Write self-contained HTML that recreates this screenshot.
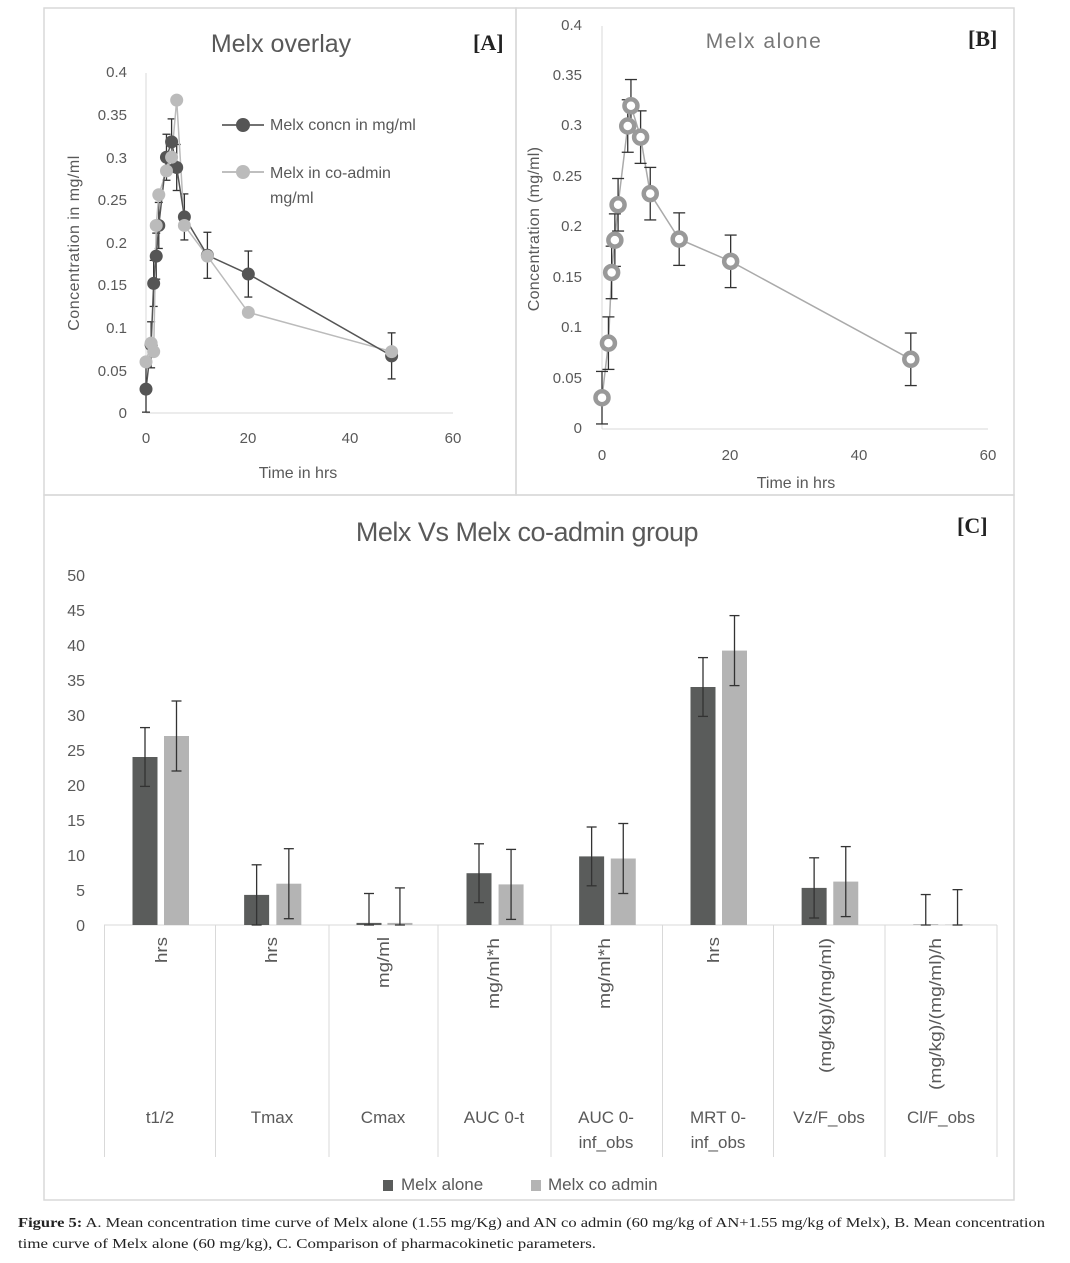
<!DOCTYPE html>
<html><head><meta charset="utf-8"><style>
body{margin:0;background:#fff;}
svg{display:block;font-family:"Liberation Sans",sans-serif;}
</style></head><body>
<svg id="s" width="1070" height="1263" viewBox="0 0 1070 1263">
<rect x="0" y="0" width="1070" height="1263" fill="#fff"/>
<g fill="none" stroke="#d9d9d9" stroke-width="1.5">
<rect x="44" y="8" width="472" height="487"/>
<rect x="516" y="8" width="498" height="487"/>
<rect x="44" y="495" width="970" height="705"/>
</g>
<g fill="#595959">
<text x="281" y="52" font-size="25" text-anchor="middle">Melx overlay</text>
<text x="764" y="48" font-size="21" text-anchor="middle" letter-spacing="1.5" fill="#777">Melx alone</text>
<text x="527" y="541" font-size="27" text-anchor="middle" letter-spacing="-0.5">Melx Vs Melx co-admin group</text>
</g>
<g font-family="Liberation Serif,serif" font-weight="bold" font-size="22" fill="#222">
<text x="473" y="50">[A]</text>
<text x="968" y="46">[B]</text>
<text x="957" y="533">[C]</text>
</g>
<g font-size="15" fill="#595959" text-anchor="end">
<text x="127" y="418">0</text><text x="127" y="376">0.05</text><text x="127" y="333">0.1</text><text x="127" y="290">0.15</text><text x="127" y="248">0.2</text><text x="127" y="205">0.25</text><text x="127" y="163">0.3</text><text x="127" y="120">0.35</text><text x="127" y="77">0.4</text>
</g>
<g font-size="15" fill="#595959" text-anchor="middle">
<text x="146" y="443">0</text><text x="248" y="443">20</text><text x="350" y="443">40</text><text x="453" y="443">60</text>
<text x="298" y="478" font-size="16">Time in hrs</text>
<text transform="translate(79,243) rotate(-90)" font-size="16" letter-spacing="0.5">Concentration in mg/ml</text>
</g>
<line x1="146" y1="73" x2="146" y2="413" stroke="#d9d9d9"/>
<line x1="146" y1="413" x2="453" y2="413" stroke="#d9d9d9"/>
<line x1="222" y1="125" x2="264" y2="125" stroke="#444" stroke-width="1.5"/><circle cx="243" cy="125" r="7" fill="#555"/>
<line x1="222" y1="172" x2="264" y2="172" stroke="#aaa" stroke-width="1.5"/><circle cx="243" cy="172" r="7" fill="#bbb"/>
<g font-size="16" fill="#595959">
<text x="270" y="130">Melx concn in mg/ml</text>
<text x="270" y="178">Melx in co-admin</text>
<text x="270" y="203">mg/ml</text>
</g>
<g id="A"></g>
<g font-size="15" fill="#595959" text-anchor="end">
<text x="582" y="433">0</text><text x="582" y="383">0.05</text><text x="582" y="332">0.1</text><text x="582" y="282">0.15</text><text x="582" y="231">0.2</text><text x="582" y="181">0.25</text><text x="582" y="130">0.3</text><text x="582" y="80">0.35</text><text x="582" y="30">0.4</text>
</g>
<g font-size="15" fill="#595959" text-anchor="middle">
<text x="602" y="460">0</text><text x="730" y="460">20</text><text x="859" y="460">40</text><text x="988" y="460">60</text>
<text x="796" y="488" font-size="16">Time in hrs</text>
<text transform="translate(539,229) rotate(-90)" font-size="16" letter-spacing="0.3">Concentration (mg/ml)</text>
</g>
<line x1="602" y1="26" x2="602" y2="429" stroke="#d9d9d9"/>
<line x1="602" y1="429" x2="988" y2="429" stroke="#d9d9d9"/>
<g id="B"></g>
<g font-size="16" fill="#595959" text-anchor="end">
<text x="85" y="931">0</text><text x="85" y="896">5</text><text x="85" y="861">10</text><text x="85" y="826">15</text><text x="85" y="791">20</text><text x="85" y="756">25</text><text x="85" y="721">30</text><text x="85" y="686">35</text><text x="85" y="651">40</text><text x="85" y="616">45</text><text x="85" y="581">50</text>
</g>
<line x1="104" y1="925" x2="997" y2="925" stroke="#d9d9d9"/>
<g stroke="#d9d9d9"><line x1="104.5" y1="925" x2="104.5" y2="1157"/><line x1="215.5" y1="925" x2="215.5" y2="1157"/><line x1="329" y1="925" x2="329" y2="1157"/><line x1="438" y1="925" x2="438" y2="1157"/><line x1="551" y1="925" x2="551" y2="1157"/><line x1="662.5" y1="925" x2="662.5" y2="1157"/><line x1="773.5" y1="925" x2="773.5" y2="1157"/><line x1="885" y1="925" x2="885" y2="1157"/><line x1="997" y1="925" x2="997" y2="1157"/></g>
<g id="C"></g>
<g font-size="17" fill="#595959" text-anchor="end">
<text transform="translate(167,937) rotate(-90)" textLength="26" lengthAdjust="spacingAndGlyphs">hrs</text>
<text transform="translate(277,937) rotate(-90)" textLength="26" lengthAdjust="spacingAndGlyphs">hrs</text>
<text transform="translate(389,937) rotate(-90)" textLength="51" lengthAdjust="spacingAndGlyphs">mg/ml</text>
<text transform="translate(499,938) rotate(-90)" textLength="71" lengthAdjust="spacingAndGlyphs">mg/ml*h</text>
<text transform="translate(610,938) rotate(-90)" textLength="71" lengthAdjust="spacingAndGlyphs">mg/ml*h</text>
<text transform="translate(719,937) rotate(-90)" textLength="26" lengthAdjust="spacingAndGlyphs">hrs</text>
<text transform="translate(831,938) rotate(-90)" textLength="135" lengthAdjust="spacingAndGlyphs">(mg/kg)/(mg/ml)</text>
<text transform="translate(941,938) rotate(-90)" textLength="152" lengthAdjust="spacingAndGlyphs">(mg/kg)/(mg/ml)/h</text>
</g>
<g font-size="17" fill="#595959" text-anchor="middle">
<text x="160" y="1123">t1/2</text><text x="272" y="1123">Tmax</text><text x="383" y="1123">Cmax</text><text x="494" y="1123">AUC 0-t</text>
<text x="606" y="1123">AUC 0-</text><text x="606" y="1148">inf_obs</text>
<text x="718" y="1123">MRT 0-</text><text x="718" y="1148">inf_obs</text>
<text x="829" y="1123">Vz/F_obs</text><text x="941" y="1123">Cl/F_obs</text>
</g>
<rect x="383" y="1180" width="10" height="11" fill="#5a5c5b"/>
<rect x="531" y="1180" width="10" height="11" fill="#b4b4b4"/>
<g font-size="17" fill="#595959"><text x="401" y="1190">Melx alone</text><text x="548" y="1190">Melx co admin</text></g>
<g font-family="Liberation Serif,serif" font-size="14" fill="#222">
<text x="18" y="1227" textLength="1027" lengthAdjust="spacingAndGlyphs"><tspan font-weight="bold">Figure 5:</tspan> A. Mean concentration time curve of Melx alone (1.55 mg/Kg) and AN co admin (60 mg/kg of AN+1.55 mg/kg of Melx), B. Mean concentration</text>
<text x="18" y="1248" textLength="578" lengthAdjust="spacingAndGlyphs">time curve of Melx alone (60 mg/kg), C. Comparison of pharmacokinetic parameters.</text>
</g>
</svg>
<script>
var NS="http://www.w3.org/2000/svg";
function el(p,t,a){var e=document.createElementNS(NS,t);for(var k in a)e.setAttribute(k,a[k]);p.appendChild(e);return e;}
function eb(g,x,y1,y2,c,w){el(g,"line",{x1:x,y1:y1,x2:x,y2:y2,stroke:c,"stroke-width":1.3});el(g,"line",{x1:x-w,y1:y1,x2:x+w,y2:y1,stroke:c,"stroke-width":1.3});el(g,"line",{x1:x-w,y1:y2,x2:x+w,y2:y2,stroke:c,"stroke-width":1.3});}
var gA=document.getElementById("A");
var ax=function(t){return 146+t*5.117},ay=function(v){return 413-v*852.5};
var T=[0,1,1.5,2,2.5,4,5,6,7.5,12,20,48];
var D=[0.028,0.08,0.152,0.184,0.22,0.3,0.318,0.288,0.23,0.185,0.163,0.067];
var G=[0.06,0.082,0.072,0.22,0.256,0.284,0.3,0.367,0.22,0.184,0.118,0.072];
var p1="",p2="";T.forEach(function(t,i){p1+=(i?"L":"M")+ax(t)+","+ay(D[i]);p2+=(i?"L":"M")+ax(t)+","+ay(G[i]);});
T.forEach(function(t,i){eb(gA,ax(t),ay(D[i]+0.027),ay(D[i]-0.027),"#333",4);});
el(gA,"path",{d:p2,fill:"none",stroke:"#bbb","stroke-width":1.5});
el(gA,"path",{d:p1,fill:"none",stroke:"#555","stroke-width":1.5});
T.forEach(function(t,i){el(gA,"circle",{cx:ax(t),cy:ay(D[i]),r:6.5,fill:"#555"});});
T.forEach(function(t,i){el(gA,"circle",{cx:ax(t),cy:ay(G[i]),r:6.5,fill:"#bbb"});});
var gB=document.getElementById("B");
var bx=function(t){return 602+t*6.433},by=function(v){return 429-v*1010};
var TB=[0,1,1.5,2,2.5,4,4.5,6,7.5,12,20,48];
var VB=[0.031,0.085,0.155,0.187,0.222,0.3,0.32,0.289,0.233,0.188,0.166,0.069];
var pb="";TB.forEach(function(t,i){pb+=(i?"L":"M")+bx(t)+","+by(VB[i]);});
el(gB,"path",{d:pb,fill:"none",stroke:"#aaa","stroke-width":1.5});
TB.forEach(function(t,i){eb(gB,bx(t),by(VB[i]+0.026),by(VB[i]-0.026),"#333",6);});
TB.forEach(function(t,i){el(gB,"circle",{cx:bx(t),cy:by(VB[i]),r:6.5,fill:"#fff",stroke:"#999","stroke-width":4.5});});
var gC=document.getElementById("C");
var starts=[104.5,215.5,329,438,551,662.5,773.5,885];
var dv=[24,4.3,0.3,7.4,9.8,34,5.3,0.05],lv=[27,5.9,0.3,5.8,9.5,39.2,6.2,0.05];
var de=[4.2,4.3,4.2,4.2,4.2,4.2,4.3,4.3],le=[5,5,5,5,5,5,5,5];
var cy=function(v){return 925-v*7};
starts.forEach(function(s,i){
 var w=(i<7?starts[i+1]:997)-s; var sc=w/111;
 var x1=s+28*sc,x2=s+59.5*sc,bw=25;
 el(gC,"rect",{x:x1,y:cy(dv[i]),width:bw,height:dv[i]*7,fill:"#5a5c5b"});
 el(gC,"rect",{x:x2,y:cy(lv[i]),width:bw,height:lv[i]*7,fill:"#b4b4b4"});
 eb(gC,x1+bw/2,cy(dv[i]+de[i]),cy(Math.max(dv[i]-de[i],0)),"#333",5);
 eb(gC,x2+bw/2,cy(lv[i]+le[i]),cy(Math.max(lv[i]-le[i],0)),"#333",5);
});
</script>
</body></html>
